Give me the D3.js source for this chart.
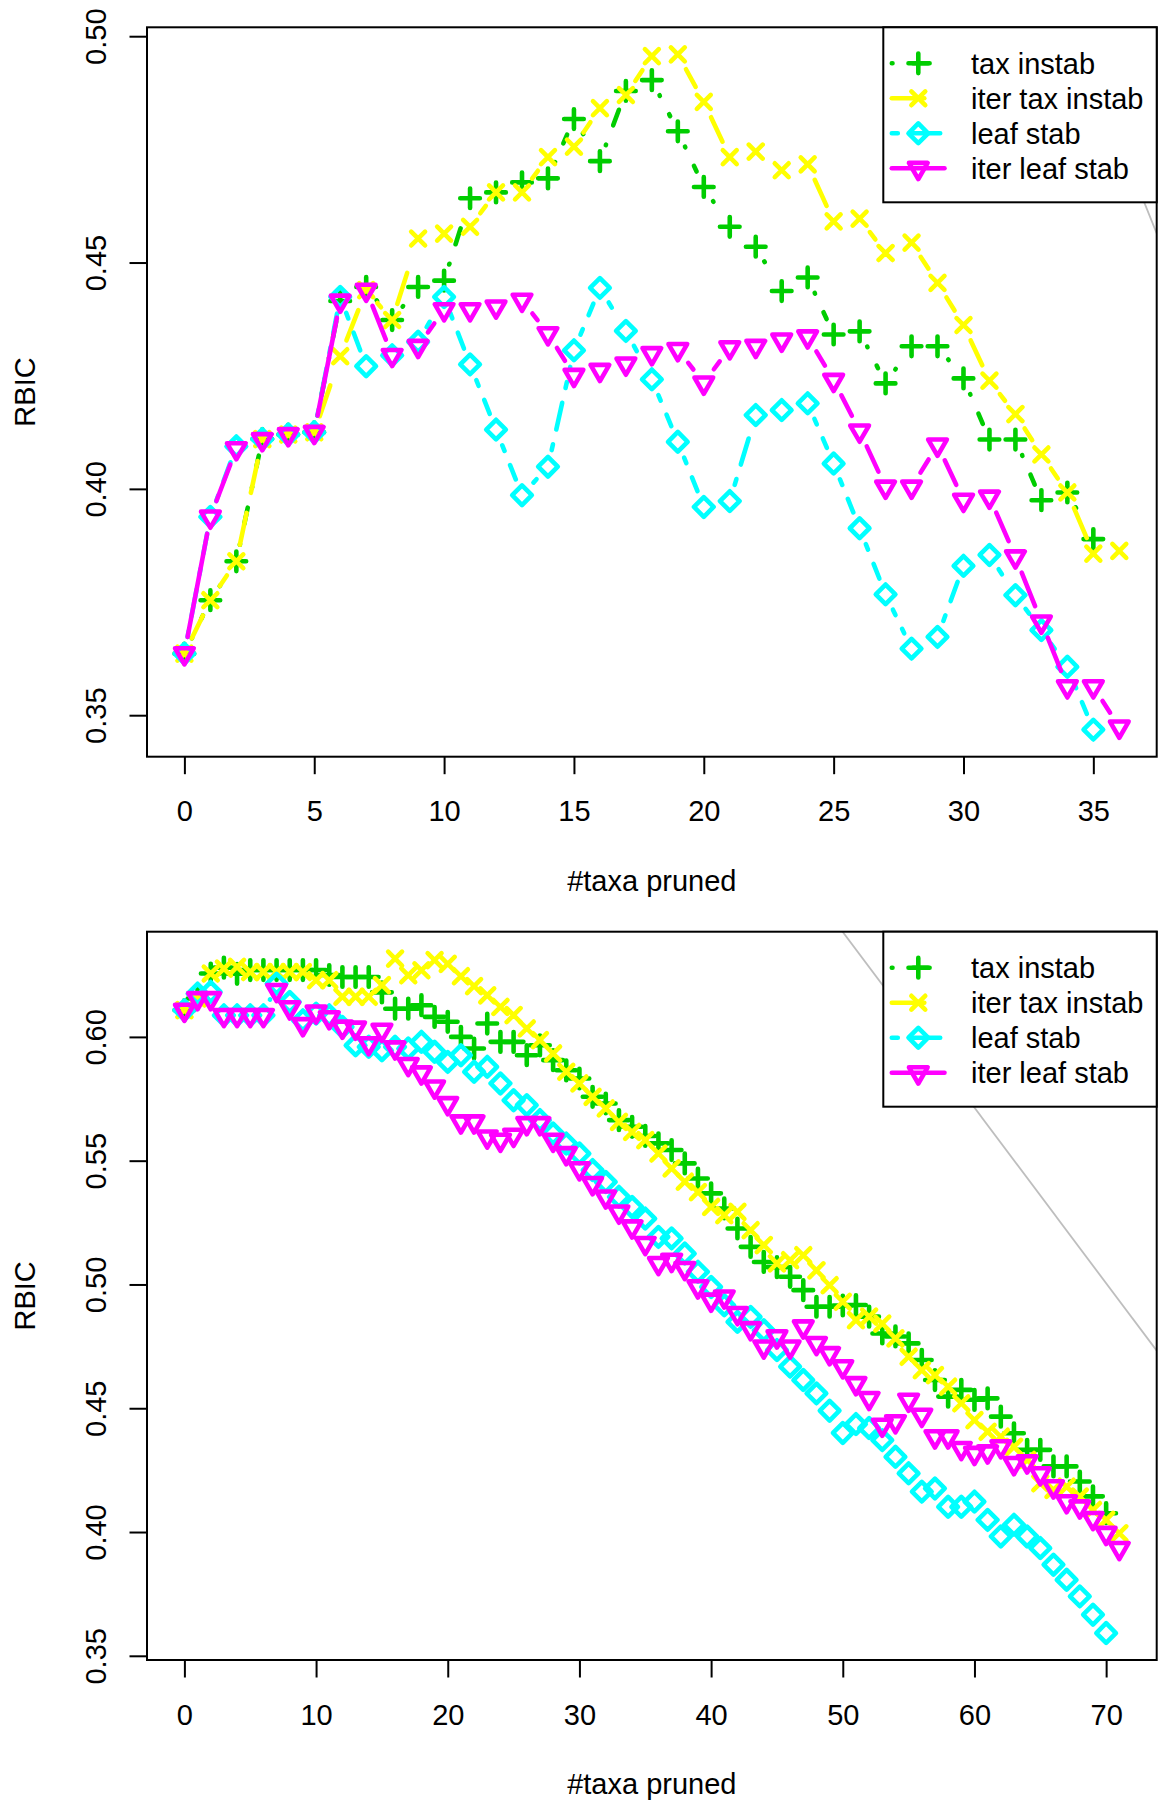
<!DOCTYPE html>
<html>
<head>
<meta charset="utf-8">
<script src="https://cdn.jsdelivr.net/npm/d3@7"></script>
<style>
  body { margin: 0; background: #fff; }
  svg text { font-family: "Liberation Sans", Arial, Helvetica, sans-serif; fill: #000; }
</style>
</head>
<body>
<div id="chart"></div>
<script>
// ---- series labels (legend order) ----
const seriesNames = ["tax instab", "iter tax instab", "leaf stab", "iter leaf stab"];

// ---- upper panel: RBIC after pruning 0..36 taxa ----
const topTaxInstab = [0.3636, 0.3754, 0.3840, 0.4110, 0.4120, 0.4125, 0.4415, 0.4446, 0.4373, 0.4446,
  0.4460, 0.4642, 0.4655, 0.4677, 0.4686, 0.4817, 0.4724, 0.4879, 0.4903, 0.4790,
  0.4667, 0.4579, 0.4535, 0.4437, 0.4467, 0.4341, 0.4348, 0.4233, 0.4315, 0.4315,
  0.4244, 0.4109, 0.4109, 0.3975, 0.3992, 0.3889];
const topIterTaxInstab = [0.3636, 0.3754, 0.3840, 0.4110, 0.4120, 0.4125, 0.4293, 0.4439, 0.4373, 0.4553,
  0.4564, 0.4579, 0.4655, 0.4655, 0.4733, 0.4756, 0.4841, 0.4870, 0.4956, 0.4960,
  0.4855, 0.4733, 0.4745, 0.4704, 0.4717, 0.4591, 0.4597, 0.4521, 0.4544, 0.4455,
  0.4362, 0.4239, 0.4165, 0.4076, 0.3992, 0.3857, 0.3863];
const topLeafStab = [0.3636, 0.3938, 0.4094, 0.4110, 0.4120, 0.4125, 0.4424, 0.4271, 0.4295, 0.4325,
  0.4424, 0.4275, 0.4131, 0.3986, 0.4049, 0.4306, 0.4444, 0.4349, 0.4242, 0.4104,
  0.3960, 0.3973, 0.4163, 0.4174, 0.4189, 0.4056, 0.3913, 0.3767, 0.3647, 0.3673,
  0.3830, 0.3854, 0.3765, 0.3688, 0.3607, 0.3468];
const topIterLeafStab = [0.3636, 0.3938, 0.4089, 0.4109, 0.4120, 0.4125, 0.4415, 0.4439, 0.4295, 0.4315,
  0.4396, 0.4396, 0.4402, 0.4417, 0.4343, 0.4251, 0.4262, 0.4276, 0.4299, 0.4308,
  0.4234, 0.4312, 0.4315, 0.4329, 0.4336, 0.4240, 0.4128, 0.4004, 0.4004, 0.4097,
  0.3975, 0.3982, 0.3850, 0.3706, 0.3563, 0.3563, 0.3474];
const topXTicks = [0, 5, 10, 15, 20, 25, 30, 35];
const topYTicks = [0.35, 0.40, 0.45, 0.50];
// grey reference line, given by two (taxa pruned, RBIC) points
const topRefLine = [[30, 0.5628], [40, 0.4198]];

// ---- lower panel: RBIC after pruning 0..71 taxa ----
const botTaxInstab = [0.6108, 0.6155, 0.6256, 0.6280, 0.6255, 0.6270, 0.6270, 0.6270, 0.6270, 0.6270,
  0.6270, 0.6250, 0.6242, 0.6242, 0.6242, 0.6180, 0.6114, 0.6114, 0.6128, 0.6081,
  0.6061, 0.6000, 0.5953, 0.6054, 0.5980, 0.5980, 0.5926, 0.5966, 0.5906, 0.5865,
  0.5832, 0.5758, 0.5731, 0.5664, 0.5637, 0.5600, 0.5570, 0.5543, 0.5489, 0.5428,
  0.5368, 0.5307, 0.5226, 0.5152, 0.5091, 0.5070, 0.5031, 0.4977, 0.4910, 0.4910,
  0.4915, 0.4917, 0.4870, 0.4802, 0.4790, 0.4762, 0.4695, 0.4614, 0.4547, 0.4574,
  0.4534, 0.4540, 0.4466, 0.4399, 0.4332, 0.4332, 0.4265, 0.4265, 0.4204, 0.4144,
  0.4076];
const botIterTaxInstab = [0.6108, 0.6155, 0.6256, 0.6276, 0.6283, 0.6262, 0.6262, 0.6262, 0.6262, 0.6262,
  0.6229, 0.6229, 0.6162, 0.6162, 0.6162, 0.6209, 0.6316, 0.6249, 0.6269, 0.6310,
  0.6295, 0.6245, 0.6205, 0.6168, 0.6121, 0.6088, 0.6034, 0.5987, 0.5933, 0.5859,
  0.5812, 0.5758, 0.5711, 0.5657, 0.5616, 0.5583, 0.5529, 0.5469, 0.5415, 0.5373,
  0.5313, 0.5280, 0.5293, 0.5219, 0.5159, 0.5085, 0.5098, 0.5118, 0.5057, 0.4997,
  0.4930, 0.4856, 0.4870, 0.4842, 0.4782, 0.4708, 0.4654, 0.4634, 0.4587, 0.4520,
  0.4452, 0.4405, 0.4385, 0.4344, 0.4291, 0.4197, 0.4170, 0.4183, 0.4143, 0.4089,
  0.4049, 0.3995];
const botLeafStab = [0.6108, 0.6175, 0.6182, 0.6087, 0.6087, 0.6087, 0.6087, 0.6215, 0.6141, 0.6067,
  0.6094, 0.6087, 0.6040, 0.5966, 0.5960, 0.5946, 0.5960, 0.5953, 0.5980, 0.5940,
  0.5899, 0.5926, 0.5859, 0.5879, 0.5812, 0.5744, 0.5724, 0.5664, 0.5610, 0.5569,
  0.5529, 0.5462, 0.5414, 0.5354, 0.5313, 0.5266, 0.5192, 0.5186, 0.5125, 0.5051,
  0.4990, 0.4916, 0.4849, 0.4869, 0.4815, 0.4735, 0.4668, 0.4614, 0.4560, 0.4490,
  0.4400, 0.4436, 0.4420, 0.4371, 0.4304, 0.4237, 0.4163, 0.4176, 0.4102, 0.4102,
  0.4123, 0.4049, 0.3982, 0.4029, 0.3982, 0.3935, 0.3868, 0.3807, 0.3740, 0.3666,
  0.3592];
const botIterLeafStab = [0.6108, 0.6155, 0.6155, 0.6087, 0.6087, 0.6087, 0.6087, 0.6188, 0.6118, 0.6050,
  0.6101, 0.6078, 0.6040, 0.6036, 0.5973, 0.6027, 0.5956, 0.5889, 0.5855, 0.5798,
  0.5731, 0.5657, 0.5657, 0.5596, 0.5583, 0.5603, 0.5650, 0.5650, 0.5583, 0.5529,
  0.5468, 0.5408, 0.5354, 0.5293, 0.5233, 0.5166, 0.5085, 0.5098, 0.5065, 0.4991,
  0.4937, 0.4950, 0.4883, 0.4822, 0.4748, 0.4789, 0.4748, 0.4829, 0.4762, 0.4721,
  0.4668, 0.4600, 0.4540, 0.4432, 0.4446, 0.4533, 0.4472, 0.4385, 0.4385, 0.4338,
  0.4318, 0.4324, 0.4345, 0.4277, 0.4284, 0.4236, 0.4183, 0.4123, 0.4102, 0.4055,
  0.3995, 0.3934];
const botXTicks = [0, 10, 20, 30, 40, 50, 60, 70];
const botYTicks = [0.35, 0.40, 0.45, 0.50, 0.55, 0.60];
const botRefLine = [[50, 0.6424], [74, 0.4721]];

const xLabel = "#taxa pruned";
const yLabel = "RBIC";

// ---- styling (one entry per series) ----
const seriesColors = ["#00CD00", "#FFFF00", "#00FFFF", "#FF00FF"];
const seriesShapes = ["plus", "cross", "diamond", "triangleDown"];
// dash patterns: dotdash, longdash, twodash, solid (round caps already accounted for)
const seriesDashes = ["0.7 20.5 16.6 20.5", "32.5 20.5", "6 15.2 27.2 15.2", null];

const W = 1158, H = 1802;
const FONT = 29;
const LW = 4.6;          // series line width
const SYM = 18.5;        // symbol size unit
const GAP = 17;          // gap left around each point on connecting segments

const svg = d3.select("#chart").append("svg")
  .attr("width", W).attr("height", H)
  .attr("viewBox", `0 0 ${W} ${H}`);
svg.append("rect").attr("width", W).attr("height", H).attr("fill", "#fff");

function symbolPath(shape) {
  const p = d3.path();
  if (shape === "plus") {
    const h = Math.SQRT2 * 0.375 * SYM;
    p.moveTo(-h, 0); p.lineTo(h, 0); p.moveTo(0, -h); p.lineTo(0, h);
  } else if (shape === "cross") {
    const c = 0.375 * SYM;
    p.moveTo(-c, -c); p.lineTo(c, c); p.moveTo(-c, c); p.lineTo(c, -c);
  } else if (shape === "diamond") {
    const d = Math.SQRT2 * 0.375 * SYM;
    p.moveTo(0, -d); p.lineTo(d, 0); p.lineTo(0, d); p.lineTo(-d, 0); p.closePath();
  } else {
    const base = 0.375 * SYM;
    const k0 = Math.sqrt(4 * Math.PI / (3 * Math.sqrt(3)));
    const r = k0 * base, xc = k0 * Math.sqrt(3) / 2 * base, yc = k0 / 2 * base;
    p.moveTo(0, r); p.lineTo(xc, -yc); p.lineTo(-xc, -yc); p.closePath();
  }
  return p.toString();
}

let clipId = 0;
function drawPanel(cfg) {
  const g = svg.append("g");
  const n = d3.max(cfg.series, s => s.length) - 1;
  const x = d3.scaleLinear().domain([-0.04 * n, n * 1.04]).range([cfg.left, cfg.right]);
  const all = cfg.series.flat();
  const lo = d3.min(all), hi = d3.max(all), ext = (hi - lo) * 0.04;
  const y = d3.scaleLinear().domain([lo - ext, hi + ext]).range([cfg.bottom, cfg.top]);

  const cid = "plotclip" + (clipId++);
  g.append("clipPath").attr("id", cid).append("rect")
    .attr("x", cfg.left).attr("y", cfg.top)
    .attr("width", cfg.right - cfg.left).attr("height", cfg.bottom - cfg.top);

  // x axis
  const xa = g.append("g").attr("transform", `translate(0,${cfg.bottom})`)
    .call(d3.axisBottom(x).tickValues(cfg.xTicks).tickSize(17.5).tickFormat(d3.format("d")));
  xa.select(".domain").remove();
  xa.selectAll(".tick line").attr("stroke", "#000").attr("stroke-width", 2);
  xa.selectAll(".tick text").attr("y", 64.5).attr("dy", null)
    .attr("font-size", FONT).attr("fill", "#000");

  // y axis with labels rotated parallel to the axis
  const ya = g.append("g").attr("transform", `translate(${cfg.left},0)`)
    .call(d3.axisLeft(y).tickValues(cfg.yTicks).tickSize(17.5).tickFormat(d3.format(".2f")));
  ya.select(".domain").remove();
  ya.selectAll(".tick line").attr("stroke", "#000").attr("stroke-width", 2);
  ya.selectAll(".tick text").attr("x", null).attr("dy", null)
    .attr("transform", "translate(-41,0) rotate(-90)")
    .attr("text-anchor", "middle").attr("font-size", FONT).attr("fill", "#000");

  // axis titles
  g.append("text").attr("x", (cfg.left + cfg.right) / 2).attr("y", cfg.bottom + 134)
    .attr("text-anchor", "middle").attr("font-size", FONT).text(xLabel);
  g.append("text")
    .attr("transform", `translate(35,${(cfg.top + cfg.bottom) / 2}) rotate(-90)`)
    .attr("text-anchor", "middle").attr("font-size", FONT).text(yLabel);

  const plot = g.append("g").attr("clip-path", `url(#${cid})`);

  // grey reference line across the plot region
  const [[ax, av], [bx, bv]] = cfg.refLine;
  const slope = (bv - av) / (bx - ax);
  const xd = x.domain();
  plot.append("line")
    .attr("x1", x(xd[0])).attr("y1", y(av + slope * (xd[0] - ax)))
    .attr("x2", x(xd[1])).attr("y2", y(av + slope * (xd[1] - ax)))
    .attr("stroke", "#BEBEBE").attr("stroke-width", 1.8);

  // series: segments with gaps around points, then symbols
  cfg.series.forEach((vals, k) => {
    const pts = vals.map((v, i) => [x(i), y(v)]);
    const sg = plot.append("g");
    for (let i = 0; i < pts.length - 1; i++) {
      const [x0, y0] = pts[i], [x1, y1] = pts[i + 1];
      const dx = x1 - x0, dy = y1 - y0, L = Math.hypot(dx, dy);
      if (L <= 2 * GAP) continue;
      const f = GAP / L;
      const seg = sg.append("line")
        .attr("x1", x0 + f * dx).attr("y1", y0 + f * dy)
        .attr("x2", x1 - f * dx).attr("y2", y1 - f * dy)
        .attr("stroke", seriesColors[k]).attr("stroke-width", LW)
        .attr("stroke-linecap", "round");
      if (seriesDashes[k]) seg.attr("stroke-dasharray", seriesDashes[k]);
    }
    sg.selectAll("path.sym").data(pts).join("path")
      .attr("class", "sym")
      .attr("d", symbolPath(seriesShapes[k]))
      .attr("transform", d => `translate(${d[0]},${d[1]})`)
      .attr("fill", "none").attr("stroke", seriesColors[k])
      .attr("stroke-width", LW).attr("stroke-linejoin", "round").attr("stroke-linecap", "round");
  });

  // plot frame
  g.append("rect").attr("x", cfg.left).attr("y", cfg.top)
    .attr("width", cfg.right - cfg.left).attr("height", cfg.bottom - cfg.top)
    .attr("fill", "none").attr("stroke", "#000").attr("stroke-width", 2);

  // legend in the top-right corner
  const lg = g.append("g");
  const lx0 = 883.3, lx1 = cfg.right, rowH = 35;
  lg.append("rect").attr("x", lx0).attr("y", cfg.top)
    .attr("width", lx1 - lx0).attr("height", rowH * 5)
    .attr("fill", "#fff").attr("stroke", "#000").attr("stroke-width", 2);
  seriesNames.forEach((name, k) => {
    const ry = cfg.top + 36 + rowH * k;
    const ln = lg.append("line").attr("x1", 891.8).attr("x2", 944.5)
      .attr("y1", ry).attr("y2", ry)
      .attr("stroke", seriesColors[k]).attr("stroke-width", LW).attr("stroke-linecap", "round");
    if (seriesDashes[k]) ln.attr("stroke-dasharray", seriesDashes[k]);
    lg.append("path").attr("d", symbolPath(seriesShapes[k]))
      .attr("transform", `translate(918.3,${ry})`)
      .attr("fill", "none").attr("stroke", seriesColors[k])
      .attr("stroke-width", LW).attr("stroke-linejoin", "round").attr("stroke-linecap", "round");
    lg.append("text").attr("x", 971).attr("y", ry + 10.3)
      .attr("font-size", FONT).text(name);
  });
}

drawPanel({
  series: [topTaxInstab, topIterTaxInstab, topLeafStab, topIterLeafStab],
  xTicks: topXTicks, yTicks: topYTicks, refLine: topRefLine,
  left: 147, right: 1156.7, top: 27.3, bottom: 756.7
});
drawPanel({
  series: [botTaxInstab, botIterTaxInstab, botLeafStab, botIterLeafStab],
  xTicks: botXTicks, yTicks: botYTicks, refLine: botRefLine,
  left: 147, right: 1156.7, top: 931.7, bottom: 1660
});
</script>
</body>
</html>
